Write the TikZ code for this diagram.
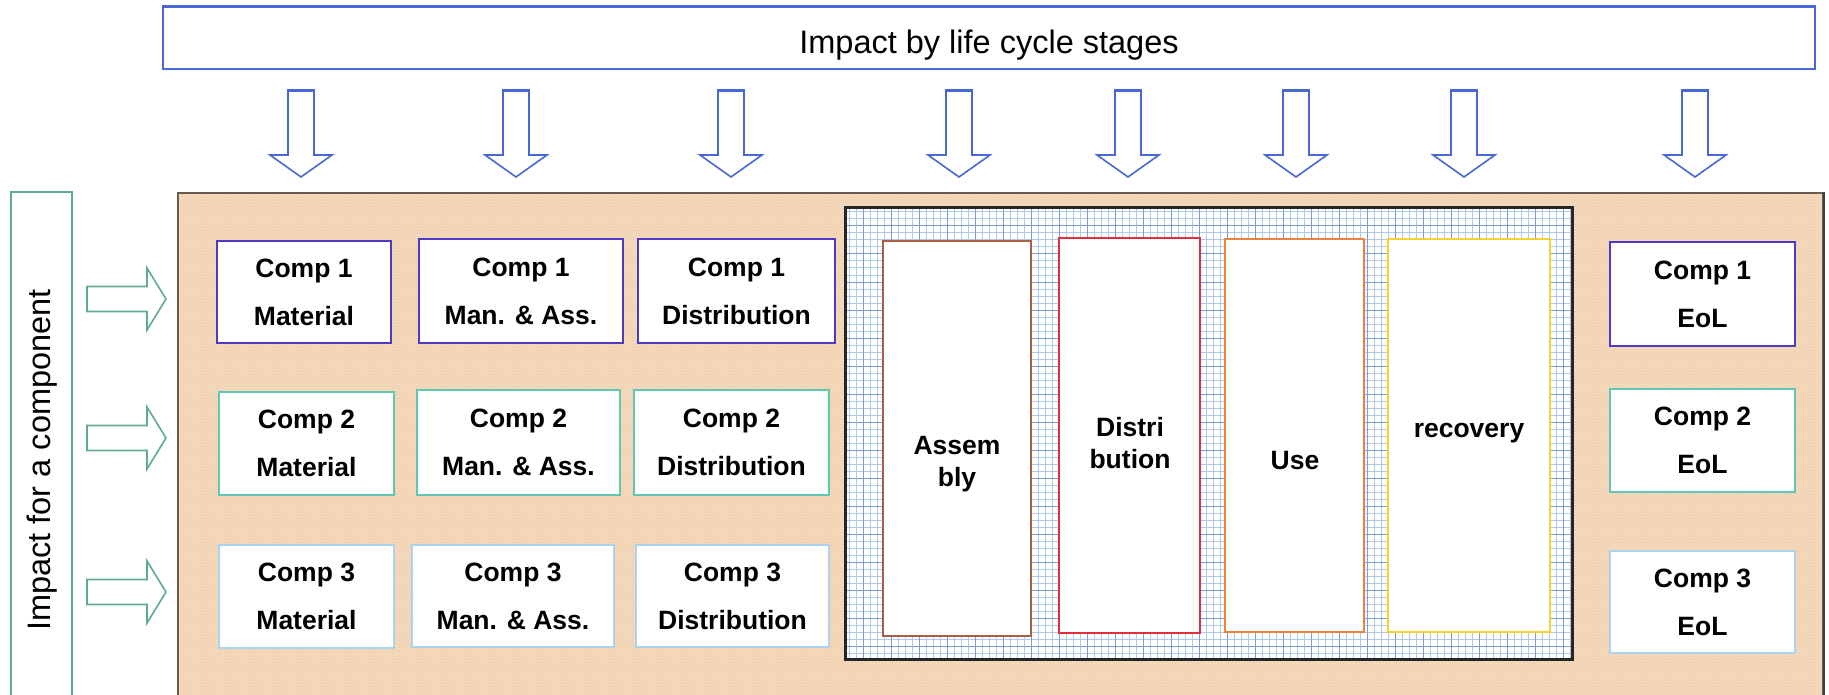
\documentclass[tikz,border=0pt]{standalone}
\usepackage{fontspec}
\setmainfont{Liberation Sans}
\usetikzlibrary{patterns}
\definecolor{stageblue}{RGB}{72,104,214}
\definecolor{compgreen}{RGB}{95,172,140}
\definecolor{rowone}{RGB}{78,58,200}
\definecolor{rowtwo}{RGB}{95,200,180}
\definecolor{rowthree}{RGB}{168,212,240}
\definecolor{peach}{RGB}{250,223,195}
\definecolor{peachhatch}{RGB}{238,208,176}
\definecolor{frame}{RGB}{100,92,80}
\definecolor{gridlight}{RGB}{175,200,240}
\definecolor{griddark}{RGB}{120,155,225}
\definecolor{asmcol}{RGB}{170,95,65}
\definecolor{discol}{RGB}{226,45,60}
\definecolor{usecol}{RGB}{240,130,60}
\definecolor{reccol}{RGB}{245,212,50}
\begin{document}
\begin{tikzpicture}[x=1pt,y=-1pt,
  plainbox/.style={draw, inner sep=0pt, line width=1.6pt},
  compbox/.style={plainbox, fill=white, line width=2pt, align=center,
    font=\bfseries\fontsize{26.5}{48}\selectfont},
  stagebox/.style={plainbox, fill=white, line width=2.2pt},
  stagetext/.style={align=center, inner sep=0pt,
    font=\bfseries\fontsize{26.5}{32}\selectfont},
  bigtext/.style={inner sep=0pt, font=\fontsize{32.5}{38}\selectfont},
  downarrow/.pic={
    \draw[stageblue, fill=white, line width=1.6pt, line join=miter]
      (-13,0) -- (-13,65) -- (-31,65) -- (0,87) -- (31,65) -- (13,65) -- (13,0) -- cycle;
    \draw[stageblue, line width=3pt] (-13,1) -- (13,1);},
  rightarrow/.pic={
    \draw[compgreen, fill=white, line width=1.6pt, line join=miter]
      (0,-12.5) -- (60,-12.5) -- (60,-31) -- (79,0) -- (60,31) -- (60,12.5) -- (0,12.5) -- cycle;}
]
\useasboundingbox (0,0) rectangle (1829,695);
\clip (0,0) rectangle (1829,695);
\fill[white] (0,0) rectangle (1829,695);

% life cycle stages header
\node[plainbox, draw=stageblue, fill=white, minimum width=1652, minimum height=62] (stages) at (989,38) {};
\draw[stageblue, line width=2.6pt] (stages.north west) -- (stages.north east);
\node[bigtext] (stagestext) at (989,45) {Impact by life cycle stages};

% arrows from the header to each stage column
\foreach \ax in {301,516,731,959,1128,1296,1464,1695}
  \pic at (\ax,90) {downarrow};

% component side bar
\node[plainbox, draw=compgreen, fill=white, minimum width=61, minimum height=528] (compbar) at (41.5,456) {};
\node[bigtext, rotate=90] (comptext) at (42,460) {Impact for a component};
\foreach \ay in {299,438,592}
  \pic at (87,\ay) {rightarrow};

% product frame with fine hatched fill
\node[plainbox, draw=frame, fill=peach, line width=2.2pt, minimum width=1645, minimum height=527] (product) at (1000.5,456.5) {};
\fill[pattern=crosshatch, pattern color=peachhatch] (179.5,194.5) rectangle (1821.5,718);
\draw[black!75, line width=2.6pt] (product.north east) -- (product.south east);

% shared stages area with grid
\begin{scope}
  \clip (845,208) rectangle (1572,659);
  \fill[white] (845,208) rectangle (1572,659);
  \foreach \gx in {849,856,...,1572} \draw[gridlight, line width=1pt] (\gx,208) -- (\gx,659);
  \foreach \gy in {212,219,...,659} \draw[gridlight, line width=1pt] (845,\gy) -- (1572,\gy);
  \foreach \gx in {863,891,...,1572} \draw[griddark, line width=1pt] (\gx,208) -- (\gx,659);
  \foreach \gy in {226,254,...,659} \draw[griddark, line width=1pt] (845,\gy) -- (1572,\gy);
\end{scope}
\node[plainbox, draw=black!85, line width=3pt, minimum width=727, minimum height=451] (shared) at (1208.5,433.5) {};

\node[stagebox, draw=asmcol, line width=1.8pt, minimum width=148, minimum height=395] (asm) at (957,438.5) {};
\node[stagebox, draw=discol, minimum width=141, minimum height=395] (dis) at (1129.5,435.5) {};
\node[stagebox, draw=usecol, minimum width=139, minimum height=393] (use) at (1294.5,435.5) {};
\node[stagebox, draw=reccol, minimum width=162, minimum height=393] (rec) at (1469,435.5) {};
\node[stagetext] (asmtext) at (957,464) {Assem\\bly};
\node[stagetext] (distext) at (1130,443) {Distri\\bution};
\node[stagetext] (usetext) at (1295,461) {Use};
\node[stagetext] (rectext) at (1469,433) {recovery};

% component 1
\node[compbox, draw=rowone, minimum width=174, minimum height=102] (m1) at (304,292) {Comp 1\\Material};
\node[compbox, draw=rowone, minimum width=204, minimum height=104] (a1) at (521,291) {Comp 1\\Man. \& Ass.};
\node[compbox, draw=rowone, minimum width=197, minimum height=104] (d1) at (736.5,291) {Comp 1\\Distribution};
\node[compbox, draw=rowone, minimum width=185, minimum height=104] (e1) at (1702.5,294) {Comp 1\\EoL};

% component 2
\node[compbox, draw=rowtwo, minimum width=175, minimum height=103] (m2) at (306.5,443.5) {Comp 2\\Material};
\node[compbox, draw=rowtwo, minimum width=203, minimum height=105] (a2) at (518.5,442.5) {Comp 2\\Man. \& Ass.};
\node[compbox, draw=rowtwo, minimum width=195, minimum height=105] (d2) at (731.5,442.5) {Comp 2\\Distribution};
\node[compbox, draw=rowtwo, minimum width=185, minimum height=103] (e2) at (1702.5,440.5) {Comp 2\\EoL};

% component 3
\node[compbox, draw=rowthree, minimum width=175, minimum height=103] (m3) at (306.5,596.5) {Comp 3\\Material};
\node[compbox, draw=rowthree, minimum width=202, minimum height=102] (a3) at (513,596) {Comp 3\\Man. \& Ass.};
\node[compbox, draw=rowthree, minimum width=193, minimum height=102] (d3) at (732.5,596) {Comp 3\\Distribution};
\node[compbox, draw=rowthree, minimum width=185, minimum height=102] (e3) at (1702.5,602) {Comp 3\\EoL};
\end{tikzpicture}
\end{document}
